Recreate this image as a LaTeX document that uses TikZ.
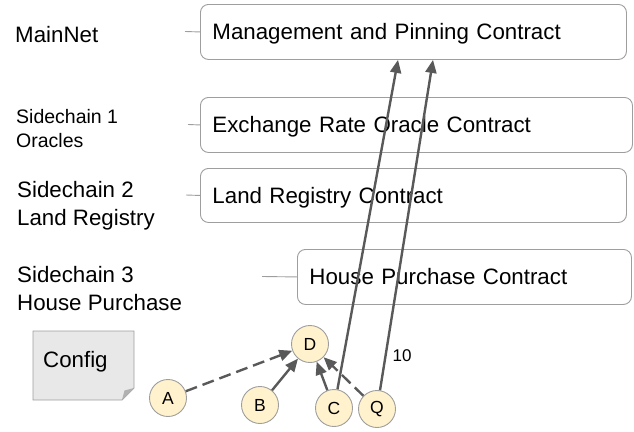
\documentclass[tikz,border=0pt]{standalone}
\usepackage{fontspec}
\setmainfont{Liberation Sans}
\usepackage{tikz}
\usetikzlibrary{arrows.meta}
\definecolor{edgegray}{HTML}{9E9E9E}
\definecolor{arrowgray}{HTML}{595959}
\definecolor{nodeyellow}{HTML}{FFF2CC}
\definecolor{notegray}{HTML}{E8E8E8}
\tikzset{
	contract/.style={draw=edgegray, line width=0.9pt, rounded corners=8pt, fill=white, anchor=north west,
		minimum height=55pt, inner xsep=12pt, text height=16pt, text depth=0pt, align=left,
		font=\fontsize{22.3}{27}\selectfont},
	chainlabel/.style={anchor=base west, align=left, inner sep=0pt, font=\fontsize{22.3}{27.5}\selectfont},
	party/.style={circle, draw=edgegray, line width=0.9pt, fill=nodeyellow, minimum size=37pt, inner sep=0pt,
		font=\fontsize{17.5}{19}\selectfont},
	stub/.style={draw=edgegray, line width=0.9pt},
	flow/.style={draw=arrowgray, line width=2.4pt, -{Triangle[length=13pt,width=11pt]}},
	flowdash/.style={flow, dash pattern=on 12pt off 6pt}
}
\begin{document}
\begin{tikzpicture}[x=1pt, y=-1pt]
	\useasboundingbox (0,0) rectangle (634,431);

	%chain labels (base = last line)
	\node[chainlabel] (mainnet) at (15,42) {MainNet};
	\node[chainlabel, font=\fontsize{19.5}{23.5}\selectfont] (side1) at (16,147) {Sidechain 1\\Oracles};
	\node[chainlabel] (side2) at (17,225) {Sidechain 2\\Land Registry};
	\node[chainlabel] (side3) at (17,310) {Sidechain 3\\House Purchase};

	%contracts
	\node[contract, minimum width=426pt, text width=402pt] (mgmt) at (200,4) {Management and Pinning Contract};
	\node[contract, minimum width=432pt, text width=408pt] (oracle) at (200,97) {Exchange Rate Oracle Contract};
	\node[contract, minimum width=426pt, text width=402pt, minimum height=54pt] (land) at (200,168) {Land Registry Contract};
	\node[contract, minimum width=334pt, text width=310pt] (house) at (297,249) {House Purchase Contract};

	%stubs
	\coordinate (s0) at (185,31.5);
	\coordinate (s1) at (188,124.5);
	\coordinate (s2) at (186,195);
	\coordinate (s3) at (262,276.5);
	\draw[stub] (s0) -- (mgmt.west);
	\draw[stub] (s1) -- (oracle.west);
	\draw[stub] (s2) -- (land.west);
	\draw[stub] (s3) -- (house.west);

	%config note
	\draw[edgegray, line width=0.9pt, fill=notegray] (33,331) -- (134,331) -- (134,388) -- (122,400) -- (33,400) -- cycle;
	\fill[edgegray!80] (134,388) -- (122,400) -- (124.5,390.5) -- cycle;
	\node[chainlabel] (config) at (43,367) {Config};

	%parties
	\node[party] (A) at (168,398) {A};
	\node[party] (B) at (260,405) {B};
	\node[party] (D) at (310,344) {D};
	\node[party] (C) at (334,408) {C};
	\node[party] (Q) at (377,409) {Q};
	\node[font=\fontsize{17}{18}\selectfont] (ten) at (402,356) {10};

	%arrows
	\coordinate (pinC) at ([xshift=198pt]mgmt.south west);
	\coordinate (pinQ) at ([xshift=233pt]mgmt.south west);
	\draw[flowdash] (A) -- (D);
	\draw[flow] (B) -- (D);
	\draw[flow] (C) -- (D);
	\draw[flowdash] (Q) -- (D);
	\draw[flow] (C) -- (pinC);
	\draw[flow] (Q) -- (pinQ);
\end{tikzpicture}
\end{document}
